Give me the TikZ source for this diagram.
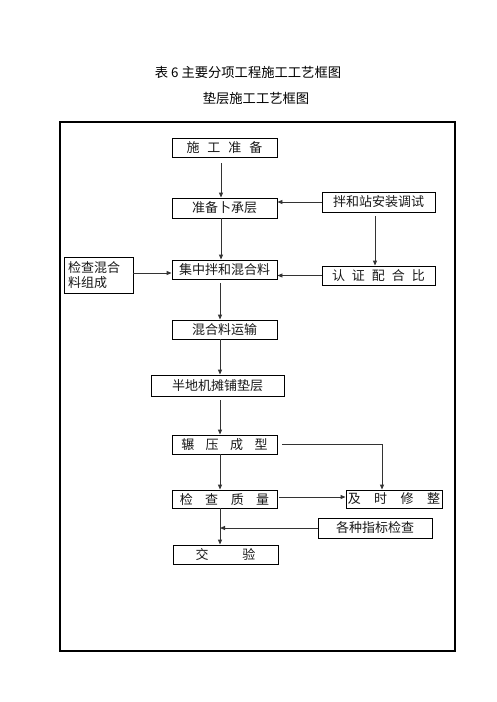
\documentclass[tikz,border=0pt]{standalone}
\usepackage{fontspec}
\setmainfont{Noto Sans CJK SC}
\usetikzlibrary{arrows.meta}
\newcommand{\gapp}[1]{\hspace{#1pt}}
\begin{document}
\begin{tikzpicture}[x=1pt,y=-1pt,
  box/.style={draw=black,line width=0.9pt,inner sep=0pt,font=\fontsize{13}{14.5}\selectfont,text=black!90},
  conn/.style={draw=black!80,line width=0.9pt},
  arr/.style={conn,-{Triangle[length=5pt,width=4pt]}}]
\useasboundingbox (0,0) rectangle (496,702);
\fill[white] (0,0) rectangle (496,702);
\node[font=\fontsize{13.3}{15}\selectfont] (t1) at (248,72) {表 6 主要分项工程施工工艺框图};
\node[font=\fontsize{13.3}{15}\selectfont] (t2) at (256,98) {垫层施工工艺框图};
\draw[line width=1.1pt] (60,122) rectangle (455,651);
% boxes
\node[box,minimum width=105pt,minimum height=19pt] (a) at (224.5,147.5) {施\gapp{8}工\gapp{8}准\gapp{8}备};
\node[box,minimum width=105pt,minimum height=20pt] (b) at (224.5,208) {准备卜承层};
\node[box,minimum width=113pt,minimum height=20pt] (c) at (378.5,202) {拌和站安装调试};
\node[box,minimum width=105pt,minimum height=19pt] (d) at (224.5,269.5) {集中拌和混合料};
\node[box,minimum width=113pt,minimum height=19pt] (e) at (378.5,275.5) {认\gapp{7}证\gapp{7}配\gapp{7}合\gapp{7}比};
\node[box,minimum width=69pt,minimum height=36pt,align=left,text width=61pt,inner xsep=4pt] (f) at (98.5,275) {\raggedright 检查混合\\料组成};
\node[box,minimum width=105pt,minimum height=19pt] (g) at (224.5,329.5) {混合料运输};
\node[box,minimum width=133pt,minimum height=21pt] (h) at (217.5,385.5) {半地机摊铺垫层};
\node[box,minimum width=105pt,minimum height=19pt] (i) at (224.5,444.5) {辗\gapp{11.5}压\gapp{11.5}成\gapp{11.5}型};
\node[box,minimum width=105pt,minimum height=18pt] (j) at (224.5,499) {检\gapp{12.5}查\gapp{12.5}质\gapp{12.5}量};
\node[box,minimum width=96pt,minimum height=18pt] (k) at (394,499) {及\gapp{13.5}时\gapp{13.5}修\gapp{13.5}整};
\node[box,minimum width=114pt,minimum height=20pt] (l) at (375,528) {各种指标检查};
\node[box,minimum width=105pt,minimum height=19pt] (m) at (225.5,554.5) {交\gapp{34}验};
% connectors
\coordinate (aB) at (221,163);
\draw[arr] (aB) -- (b.north -| aB);
\draw[arr] (b.south -| aB) -- (d.north -| aB);
\draw[arr] (c.west) -- (b.east |- c.west);
\coordinate (cB) at (375,216);
\draw[arr] (cB) -- (e.north -| cB);
\draw[arr] (e.west) -- (d.east |- e.west);
\draw[arr] (f.east |- 0,273) -- (d.west |- 0,273);
\coordinate (dB) at (220,283);
\draw[arr] (dB) -- (g.north -| dB);
\draw[arr] (g.south -| dB) -- (h.north -| dB);
\coordinate (hB) at (220,400);
\draw[arr] (hB) -- (i.north -| hB);
\draw[arr] (i.south -| hB) -- (j.north -| hB);
\coordinate (iR) at (282,444);
\coordinate (iC) at (382,444);
\draw[arr] (iR) -- (iC) -- (k.north -| iC);
\coordinate (jR) at (279,497);
\draw[arr] (jR) -- (k.west |- jR);
\draw[arr] (j.south -| hB) -- (m.north -| hB);
\draw[arr] (l.west) -- (hB |- l.west);
\end{tikzpicture}
\end{document}
